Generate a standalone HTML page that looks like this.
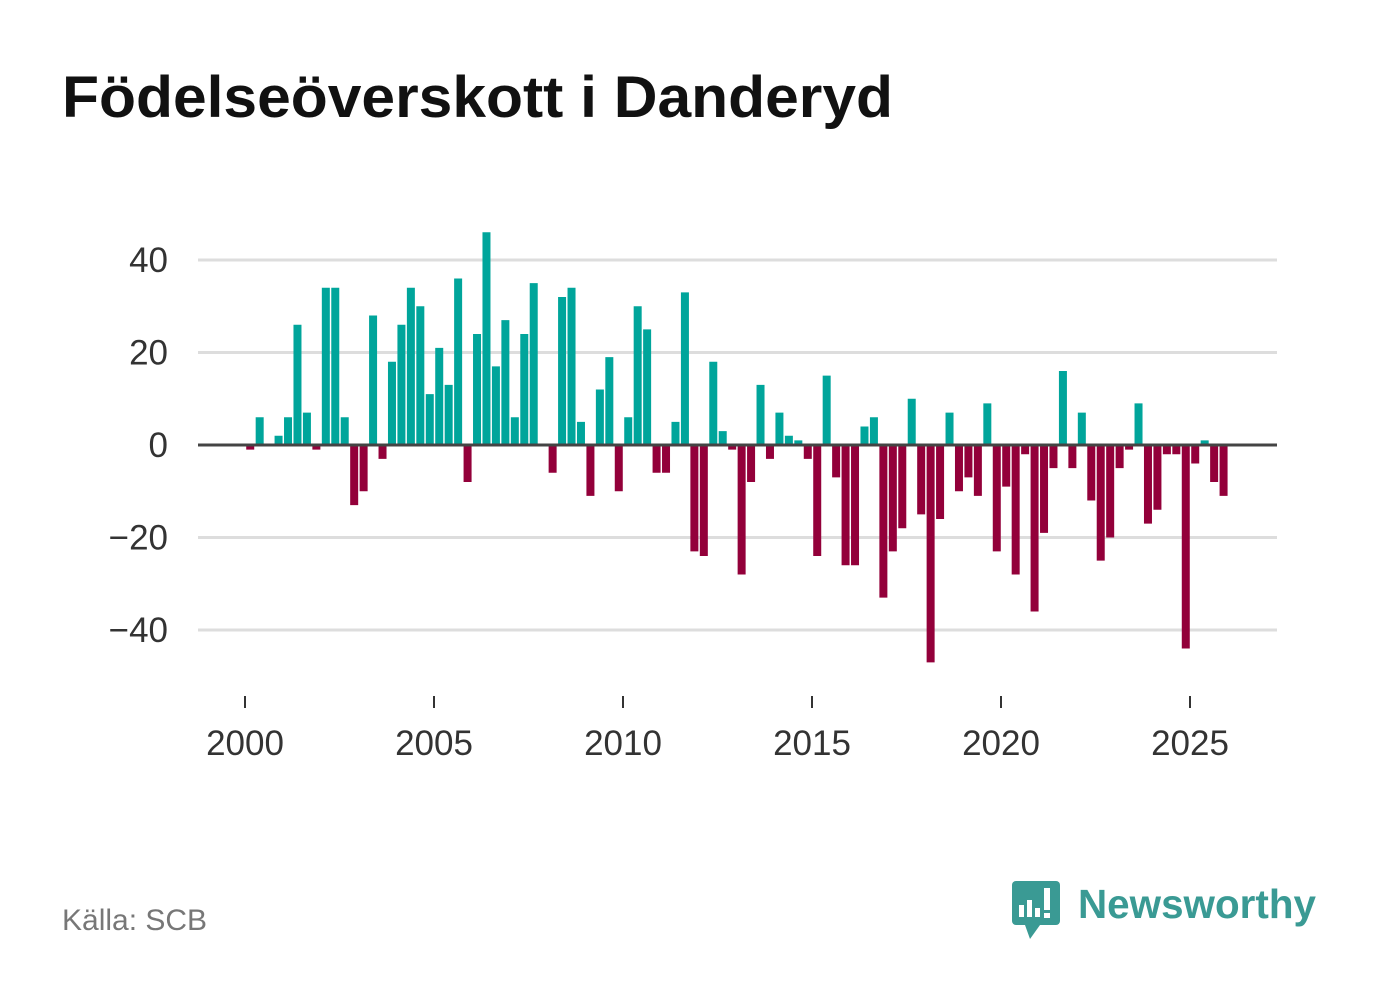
<!DOCTYPE html>
<html><head><meta charset="utf-8"><style>
body{margin:0;background:#fff;font-family:"Liberation Sans","DejaVu Sans",sans-serif}
#wrap{position:relative;width:1382px;height:999px;overflow:hidden}
</style></head><body><div id="wrap">
<svg id="svg" width="1382" height="999" xmlns="http://www.w3.org/2000/svg">
<text x="62" y="117" font-size="58" font-weight="bold" fill="#111" textLength="831" lengthAdjust="spacingAndGlyphs" font-family="Liberation Sans, sans-serif">Födelseöverskott i Danderyd</text>
<g id="grid"></g><g id="bars"></g><g id="axis"></g>
<text x="62" y="930" font-size="30" fill="#777">Källa: SCB</text>
<g>
<rect x="1012" y="881" width="48" height="44" rx="4" fill="#3a9a94"/>
<polygon points="1025,925 1040,925 1030,939" fill="#3a9a94"/>
<rect x="1019" y="905" width="5" height="12" fill="#fff"/><rect x="1027" y="900" width="5" height="17" fill="#fff"/><rect x="1035" y="908" width="5" height="9" fill="#fff"/><rect x="1044" y="888" width="6" height="22" fill="#fff"/><rect x="1044" y="913" width="6" height="5" fill="#fff"/>
<text x="1078" y="918" font-size="41" font-weight="bold" fill="#3a9a94" textLength="238" lengthAdjust="spacingAndGlyphs">Newsworthy</text>
</g>
</svg></div>
<script>
const startYear = 2000;
const values = [-1,6,0,2,6,26,7,-1,34,34,6,-13,-10,28,-3,18,26,34,30,11,21,13,36,-8,24,46,17,27,6,24,35,0,-6,32,34,5,-11,12,19,-10,6,30,25,-6,-6,5,33,-23,-24,18,3,-1,-28,-8,13,-3,7,2,1,-3,-24,15,-7,-26,-26,4,6,-33,-23,-18,10,-15,-47,-16,7,-10,-7,-11,9,-23,-9,-28,-2,-36,-19,-5,16,-5,7,-12,-25,-20,-5,-1,9,-17,-14,-2,-2,-44,-4,1,-8,-11];
const yTicks = [40,20,0,-20,-40];
const yTickLabels = ["40","20","0","\u221220","\u221240"];
const xTicks = [2000,2005,2010,2015,2020,2025];
const NS="http://www.w3.org/2000/svg";
const X = t => 245 + (t-startYear)*37.8;
const Y = v => 445 - v*4.625;
const grid=document.getElementById('grid'), bars=document.getElementById('bars'), axis=document.getElementById('axis');
function mk(tag,attrs,parent){const e=document.createElementNS(NS,tag);for(const k in attrs)e.setAttribute(k,attrs[k]);parent.appendChild(e);return e;}
yTicks.forEach((v,i)=>{
  if(v!==0){const l=mk('line',{x1:198,x2:1277,y1:Y(v),y2:Y(v),stroke:'#ddd','stroke-width':3},grid);
  
  }
  const t=mk('text',{x:168,y:Y(v)+12,'text-anchor':'end','font-size':35,fill:'#333'},axis);
  t.textContent=yTickLabels[i];
  
  
});
values.forEach((v,i)=>{
  const cx=X(startYear+(i+0.5)/4);
  const y0=Y(0),y1=Y(v);
  const r=mk('rect',{x:cx-3.5,y:Math.min(y0,y1),width:8,height:Math.abs(y1-y0),fill:v>=0?'#00a59b':'#93003a'},bars);
  
  
});
const z=mk('line',{x1:198,x2:1277,y1:Y(0),y2:Y(0),stroke:'#444','stroke-width':3},axis);


xTicks.forEach(yr=>{
  const tk=mk('line',{x1:X(yr),x2:X(yr),y1:696,y2:708,stroke:'#333','stroke-width':2},axis);
  
  
  const t=mk('text',{x:X(yr),y:755,'text-anchor':'middle','font-size':35,fill:'#333'},axis);
  t.textContent=yr;
  
  
});
</script></body></html>
